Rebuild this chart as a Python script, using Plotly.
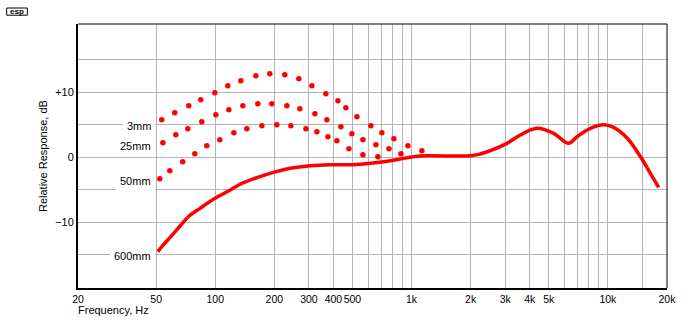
import numpy as np
import plotly.graph_objects as go

# Near-field response vs. microphone distance (frequency in Hz, level in dB)
freq_3mm = [53.4, 62.2, 73.3, 84.4, 99.5, 115.9, 135, 161, 189.7, 226.2, 266.6,
            310.6, 366, 421.4, 462.8, 526.8, 620.6, 706, 813, 958, 1129]
db_3mm = [5.75, 6.83, 7.91, 8.83, 9.91, 10.98, 11.75, 12.52, 12.83, 12.68, 12.06,
          10.98, 9.75, 8.68, 7.6, 6.22, 4.83, 3.75, 2.83, 1.75, 0.98]

freq_25mm = [54.1, 63.0, 72.5, 85.4, 100.7, 117.3, 138.2, 164.8, 194.2, 231.6,
             269.8, 321.8, 370.4, 436.6, 496.6, 565.2, 658.2, 766.6, 882.8]
db_25mm = [2.22, 3.45, 4.37, 5.45, 6.52, 7.29, 7.91, 8.22, 8.22, 7.91,
           7.45, 6.68, 5.75, 4.68, 3.6, 2.68, 1.91, 1.29, 0.52]

freq_50mm = [52.2, 58.7, 68.3, 78.7, 90.6, 105.5, 124.4, 144.9, 172.8, 206,
             242.8, 289.6, 329.4, 374.8, 416.6, 479.6, 565.2, 674]
db_50mm = [-3.32, -2.09, -0.71, 0.52, 1.75, 2.68, 3.75, 4.37, 4.83, 4.98,
           4.83, 4.37, 3.91, 3.14, 2.52, 1.29, 0.37, 0.06]

freq_600mm = [51.0, 54.4, 58.9, 66.2, 73.0, 83.7, 99.8, 119.1, 133.9, 162.9,
              197.9, 240.8, 304.4, 385, 506, 615.6, 719.6, 875, 1023, 1198,
              1990, 2238, 2518, 3062, 3580, 4356, 5292, 6310, 6966, 8144,
              9516, 10690, 12524, 14630, 16450, 18142]
db_600mm = [-14.55, -13.52, -12.34, -10.6, -9.17, -7.88, -6.34, -5.06, -4.18, -3.17,
            -2.34, -1.72, -1.32, -1.17, -1.17, -0.95, -0.71, -0.29, 0.06, 0.2,
            0.2, 0.48, 0.98, 2.12, 3.4, 4.43, 3.66, 2.12, 3.14, 4.43,
            4.98, 4.58, 2.94, 0.09, -2.49, -4.65]

# Curve labels: (text, level in dB)
curve_labels = [("3mm", 4.83), ("25mm", 1.71), ("50mm", -3.63), ("600mm", -15.2)]

x_grid = [20, 50, 100, 200, 300, 400, 500, 600, 700, 800, 900, 1000,
          2000, 3000, 4000, 5000, 6000, 7000, 8000, 9000, 10000, 15000, 20000]
x_text = ["20", "50", "100", "200", "300", "400", "500", "", "", "", "", "1k",
          "2k", "3k", "4k", "5k", "", "", "", "", "10k", "", "20k"]
y_grid = [-15, -10, -5, 0, 5, 10, 15]
y_text = ["", "\u221210", "", "0", "", "+10", ""]

RED = "#ff0000"
FONT = "Liberation Sans, Arial, sans-serif"

fig = go.Figure()

fig.add_trace(go.Scatter(
    x=freq_600mm, y=db_600mm, mode="lines",
    line=dict(color=RED, width=3.5, shape="spline", smoothing=1.0),
    hoverinfo="skip"))

for fx, fy in [(freq_3mm, db_3mm), (freq_25mm, db_25mm), (freq_50mm, db_50mm)]:
    fig.add_trace(go.Scatter(
        x=fx, y=fy, mode="markers",
        marker=dict(color=RED, size=5.5, symbol="circle", line=dict(width=0)),
        hoverinfo="skip"))

annotations = []
for text, lvl in curve_labels:
    annotations.append(dict(
        x=np.log10(50), y=lvl, xref="x", yref="y", text=text, showarrow=False,
        xanchor="right", yanchor="middle", xshift=-1,
        bgcolor="white", borderpad=3, borderwidth=1, bordercolor="white",
        font=dict(family=FONT, size=11, color="black")))

annotations.append(dict(
    x=0, y=0.5, xref="paper", yref="paper", text="Relative Response, dB",
    textangle=-90, showarrow=False, xanchor="center", yanchor="middle",
    xshift=-35, font=dict(family=FONT, size=11, color="black")))
annotations.append(dict(
    x=0, y=0, xref="paper", yref="paper", text="Frequency, Hz",
    showarrow=False, xanchor="left", yanchor="middle", xshift=-2, yshift=-22,
    font=dict(family=FONT, size=11, color="black")))

# small "esp" logo in the top-left corner
annotations.append(dict(
    x=(17 - 78) / 589, y=(288 - 11.7) / 264, xref="paper", yref="paper",
    text="<b>esp</b>", showarrow=False, xanchor="center", yanchor="middle",
    font=dict(family=FONT, size=8, color="black")))

shapes = [
    dict(type="line", xref="paper", yref="paper", x0=0, x1=1, y0=1, y1=1,
         line=dict(color="black", width=1)),
    dict(type="line", xref="paper", yref="paper", x0=1, x1=1, y0=0, y1=1,
         line=dict(color="black", width=1)),
    dict(type="rect", xref="paper", yref="paper",
         x0=(6.7 - 78) / 589, x1=(27.3 - 78) / 589,
         y0=(288 - 15.2) / 264, y1=(288 - 8.0) / 264,
         line=dict(color="black", width=1)),
]

fig.update_layout(
    width=700, height=330,
    margin=dict(l=78, r=33, t=24, b=42),
    paper_bgcolor="white", plot_bgcolor="white",
    showlegend=False,
    annotations=annotations,
    shapes=shapes,
    font=dict(family=FONT, size=11, color="black"),
)

fig.update_xaxes(
    type="log", range=[np.log10(20), np.log10(20000)],
    tickmode="array", tickvals=x_grid, ticktext=x_text, tickangle=0,
    showgrid=True, gridcolor="#b4b4b4", gridwidth=1,
    showline=True, linecolor="black", linewidth=2,
    ticks="", zeroline=False,
    tickfont=dict(family=FONT, size=10.5, color="black"))

fig.update_yaxes(
    range=[-20.14, 20.48],
    tickmode="array", tickvals=y_grid, ticktext=y_text,
    showgrid=True, gridcolor="#b4b4b4", gridwidth=1,
    showline=True, linecolor="black", linewidth=2,
    ticks="", zeroline=False,
    tickfont=dict(family=FONT, size=11, color="black"))

fig.write_html("out.html")
